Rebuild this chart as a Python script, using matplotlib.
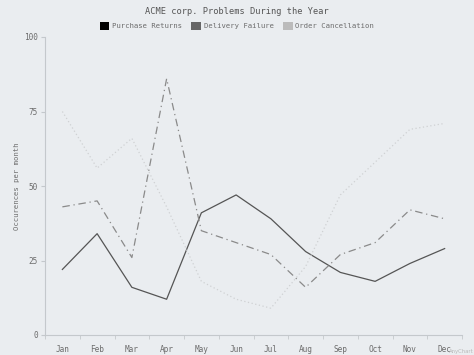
import matplotlib
matplotlib.use("Agg")
import matplotlib.pyplot as plt
from matplotlib.patches import Patch

months = ['Jan', 'Feb', 'Mar', 'Apr', 'May', 'Jun',
          'Jul', 'Aug', 'Sep', 'Oct', 'Nov', 'Dec']
purchase_returns = [22, 34, 16, 12, 41, 47, 39, 28, 21, 18, 24, 29]
delivery_failure = [43, 45, 26, 86, 35, 31, 27, 16, 27, 31, 42, 39]
order_cancellation = [75, 56, 66, 43, 18, 12, 9, 23, 47, 58, 69, 71]
yticks = [0, 25, 50, 75, 100]

bg = '#eaedf0'
axis_col = '#c4c8cc'
text_col = '#6b6b6b'

plt.rcParams['font.family'] = ['DejaVu Sans Mono']

fig = plt.figure(figsize=(4.74, 3.55), dpi=100, facecolor=bg)
ax = fig.add_axes([45 / 474, 20 / 355, 417 / 474, 298 / 355], facecolor=bg)

x = list(range(len(months)))
ax.plot(x, purchase_returns, color='#555555', lw=0.9, ls='-')
ax.plot(x, delivery_failure, color='#8a8a8a', lw=0.9, ls=(0, (6, 3, 1, 3)))
ax.plot(x, order_cancellation, color='#cfd1d3', lw=0.9, ls=(0, (1, 2)))

ax.set_xlim(-0.5, len(months) - 0.5)
ax.set_ylim(0, 100)
ax.set_xticks(x)
ax.set_xticklabels(months)
ax.set_xticks([i - 0.5 for i in range(len(months) + 1)], minor=True)
ax.tick_params(axis='x', which='major', length=0, labelsize=5.6, colors=text_col, pad=7)
ax.tick_params(axis='x', which='minor', length=3, color=axis_col, direction='out')
ax.set_yticks(yticks)
ax.tick_params(axis='y', length=3, color=axis_col, labelsize=5.6, labelcolor=text_col, pad=2)

for s in ['top', 'right']:
    ax.spines[s].set_visible(False)
for s in ['left', 'bottom']:
    ax.spines[s].set_color(axis_col)
    ax.spines[s].set_linewidth(0.8)

ax.set_ylabel('Occurences per month', fontsize=5.2, color=text_col, labelpad=3)

fig.text(0.5, 1 - 11 / 355, 'ACME corp. Problems During the Year',
         ha='center', va='center', fontsize=6.2, color='#555555')

handles = [Patch(facecolor='#000000', edgecolor='none', label='Purchase Returns'),
           Patch(facecolor='#666666', edgecolor='none', label='Delivery Failure'),
           Patch(facecolor='#bbbbbb', edgecolor='none', label='Order Cancellation')]
fig.legend(handles=handles, loc='center', bbox_to_anchor=(0.5, 1 - 26 / 355), ncol=3,
           frameon=False, fontsize=5.2, labelcolor=text_col, handlelength=1.3,
           handleheight=1.3, handletextpad=0.4, columnspacing=1.3)

fig.text(0.999, 0.002, 'AnyChart', ha='right', va='bottom', fontsize=3.8,
         color='#b8b8b8', family='DejaVu Sans')

fig.savefig('out.png', dpi=100, facecolor=bg)
